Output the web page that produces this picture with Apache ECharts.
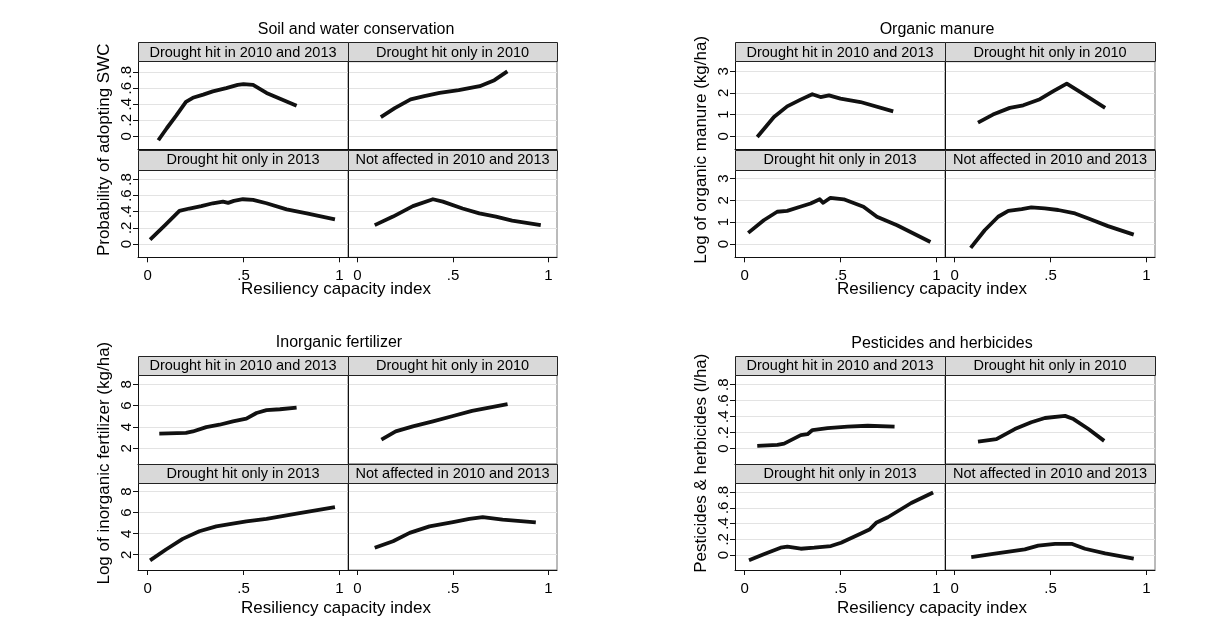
<!DOCTYPE html>
<html>
<head>
<meta charset="utf-8">
<script src="https://cdn.jsdelivr.net/npm/echarts@6/dist/echarts.min.js"></script>
<style>
html,body{margin:0;padding:0;background:#fff;}
#chart{width:1222px;height:637px;}
</style>
</head>
<body>
<div id="chart"></div>
<script>
// ---------- DATA ----------
const panelTitles = ['Soil and water conservation', 'Organic manure', 'Inorganic fertilizer', 'Pesticides and herbicides'];
const yTitles = ['Probability of adopting SWC', 'Log of organic manure (kg/ha)', 'Log of inorganic fertilizer (kg/ha)', 'Pesticides & herbicides (l/ha)'];
const stripLabels = ['Drought hit in 2010 and 2013', 'Drought hit only in 2010', 'Drought hit only in 2013', 'Not affected in 2010 and 2013'];
const xTitle = 'Resiliency capacity index';

const xTickValues = [0, 0.5, 1];
const xTickLabels = ['0', '.5', '1'];
const swcTickValues = [0, 0.2, 0.4, 0.6, 0.8];
const swcTickLabels = ['0', '.2', '.4', '.6', '.8'];
const omTickValues = [0, 1, 2, 3];
const omTickLabels = ['0', '1', '2', '3'];
const ifTickValues = [2, 4, 6, 8];
const ifTickLabels = ['2', '4', '6', '8'];
const phTickValues = [0, 0.2, 0.4, 0.6, 0.8];
const phTickLabels = ['0', '.2', '.4', '.6', '.8'];

// Soil and water conservation
const swcBoth = [[0.056,-0.05],[0.10,0.10],[0.15,0.26],[0.20,0.43],[0.236,0.48],[0.29,0.52],[0.34,0.56],[0.41,0.60],[0.47,0.64],[0.50,0.65],[0.55,0.64],[0.62,0.54],[0.70,0.46],[0.777,0.38]];
const swc2010 = [[0.122,0.24],[0.195,0.35],[0.278,0.46],[0.35,0.50],[0.43,0.54],[0.53,0.575],[0.64,0.625],[0.717,0.70],[0.785,0.81]];
const swc2013 = [[0.013,0.055],[0.09,0.23],[0.166,0.41],[0.218,0.44],[0.28,0.47],[0.34,0.505],[0.393,0.525],[0.42,0.51],[0.45,0.535],[0.497,0.555],[0.55,0.546],[0.62,0.505],[0.725,0.43],[0.83,0.38],[0.977,0.305]];
const swcNone = [[0.09,0.234],[0.186,0.34],[0.29,0.47],[0.395,0.555],[0.447,0.525],[0.55,0.44],[0.638,0.38],[0.725,0.34],[0.81,0.29],[0.96,0.234]];

// Organic manure
const omBoth = [[0.066,-0.03],[0.153,0.89],[0.222,1.38],[0.292,1.69],[0.353,1.94],[0.396,1.81],[0.44,1.89],[0.50,1.74],[0.604,1.58],[0.775,1.15]];
const om2010 = [[0.122,0.63],[0.20,1.0],[0.288,1.31],[0.358,1.43],[0.445,1.71],[0.515,2.08],[0.585,2.43],[0.654,2.05],[0.785,1.31]];
const om2013 = [[0.019,0.51],[0.10,1.09],[0.17,1.48],[0.222,1.52],[0.29,1.71],[0.344,1.86],[0.392,2.05],[0.41,1.89],[0.448,2.12],[0.517,2.05],[0.62,1.71],[0.69,1.25],[0.795,0.86],[0.969,0.09]];
const omNone = [[0.084,-0.18],[0.157,0.63],[0.227,1.25],[0.28,1.52],[0.35,1.60],[0.40,1.68],[0.47,1.63],[0.54,1.56],[0.628,1.40],[0.698,1.17],[0.80,0.82],[0.934,0.43]];

// Inorganic fertilizer
const ifBoth = [[0.061,3.38],[0.20,3.45],[0.236,3.58],[0.306,3.99],[0.375,4.21],[0.445,4.52],[0.515,4.78],[0.568,5.31],[0.62,5.57],[0.69,5.66],[0.777,5.82]];
const if2010 = [[0.125,2.82],[0.20,3.58],[0.29,4.05],[0.395,4.52],[0.50,5.03],[0.60,5.5],[0.786,6.13]];
const if2013 = [[0.013,1.46],[0.096,2.5],[0.183,3.51],[0.27,4.23],[0.358,4.70],[0.428,4.92],[0.515,5.17],[0.62,5.40],[0.777,5.9],[0.977,6.53]];
const ifNone = [[0.09,2.66],[0.186,3.28],[0.273,4.08],[0.377,4.70],[0.50,5.11],[0.586,5.40],[0.656,5.58],[0.76,5.33],[0.934,5.08]];

// Pesticides and herbicides
const phBoth = [[0.066,0.034],[0.171,0.047],[0.206,0.063],[0.293,0.169],[0.328,0.18],[0.354,0.232],[0.433,0.257],[0.537,0.274],[0.642,0.286],[0.782,0.274]];
const ph2010 = [[0.122,0.088],[0.218,0.118],[0.314,0.245],[0.40,0.33],[0.471,0.383],[0.576,0.41],[0.62,0.37],[0.698,0.245],[0.78,0.097]];
const ph2013 = [[0.023,-0.067],[0.10,0.009],[0.188,0.093],[0.223,0.106],[0.293,0.08],[0.363,0.093],[0.45,0.114],[0.503,0.156],[0.607,0.274],[0.651,0.324],[0.686,0.409],[0.747,0.48],[0.869,0.661],[0.983,0.795]];
const phNone = [[0.087,-0.025],[0.21,0.018],[0.366,0.072],[0.436,0.12],[0.524,0.143],[0.61,0.143],[0.68,0.08],[0.785,0.02],[0.934,-0.045]];

// ---------- LAYOUT ----------
const FONT = '"Liberation Sans", Arial, "DejaVu Sans", sans-serif';
const panels = [
  {series:[swcBoth,swc2010,swc2013,swcNone], ticks:swcTickValues, labels:swcTickLabels, yMin:-0.165, yMax:0.93,
   L:138, M:348, R:557, sTop:42.3, r1Top:61.7, r1Bot:149.5, r2Top:169, r2Bot:257.3, titleX:356, titleY:30, yTitleX:104, xTitleX:336, xTitleY:289},
  {series:[omBoth,om2010,om2013,omNone], ticks:omTickValues, labels:omTickLabels, yMin:-0.61, yMax:3.44,
   L:735, M:945, R:1155, sTop:42.3, r1Top:61.7, r1Bot:149.5, r2Top:169, r2Bot:257.3, titleX:937, titleY:30, yTitleX:701, xTitleX:932, xTitleY:289},
  {series:[ifBoth,if2010,if2013,ifNone], ticks:ifTickValues, labels:ifTickLabels, yMin:0.55, yMax:8.82,
   L:138, M:348, R:557, sTop:356.3, r1Top:375.5, r1Bot:463.8, r2Top:483, r2Bot:570, titleX:339, titleY:343, yTitleX:104, xTitleX:336, xTitleY:608},
  {series:[phBoth,ph2010,ph2013,phNone], ticks:phTickValues, labels:phTickLabels, yMin:-0.19, yMax:0.915,
   L:735, M:945, R:1155, sTop:356.3, r1Top:375.5, r1Bot:463.8, r2Top:483, r2Bot:570, titleX:942, titleY:344, yTitleX:701, xTitleX:932, xTitleY:608}
];

function labelFmt(vals, labels) {
  return function (v) {
    const i = vals.findIndex(t => Math.abs(t - v) < 1e-9);
    return i >= 0 ? labels[i] : '';
  };
}

const grids = [], xAxes = [], yAxes = [], series = [], graphics = [];
panels.forEach((p, pi) => {
  graphics.push({type:'text', x:p.titleX, y:p.titleY, style:{text:panelTitles[pi], font:'16px ' + FONT, fill:'#000', align:'center', verticalAlign:'middle'}});
  graphics.push({type:'text', x:p.yTitleX, y:(p.sTop + p.r2Bot) / 2, rotation:Math.PI / 2,
    style:{text:yTitles[pi], font:'17px ' + FONT, fill:'#000', align:'center', verticalAlign:'middle'}});
  graphics.push({type:'text', x:p.xTitleX, y:p.xTitleY, style:{text:xTitle, font:'17px ' + FONT, fill:'#000', align:'center', verticalAlign:'middle'}});

  for (let i = 0; i < 4; i++) {
    const col = i % 2, row = Math.floor(i / 2);
    const left = col ? p.M : p.L;
    const width = col ? p.R - p.M : p.M - p.L;
    const top = row ? p.r2Top : p.r1Top;
    const bot = row ? p.r2Bot : p.r1Bot;
    const stripTop = row ? p.r1Bot : p.sTop;
    const gi = grids.length;
    grids.push({left:left, top:top, width:width, height:bot - top, containLabel:false,
      show:col === 1, borderColor:'#777', borderWidth:1, backgroundColor:'transparent'});
    graphics.push({type:'rect', z:10,
      shape:{x:Math.round(left) + 0.5, y:Math.round(stripTop) + 0.5, width:Math.round(width), height:Math.round(top - stripTop)},
      style:{fill:'#d9d9d9', stroke:'#222', lineWidth:1}});
    graphics.push({type:'text', z:11, x:left + width / 2, y:(stripTop + top) / 2 + 0.5,
      style:{text:stripLabels[i], font:'14.5px ' + FONT, fill:'#000', align:'center', verticalAlign:'middle'}});

    xAxes.push({type:'value', gridIndex:gi, min:-0.05, max:1.045, position:'bottom',
      axisLine:{show:true, onZero:false, lineStyle:{color:'#111', width:1}},
      axisTick:{show:row === 1, customValues:xTickValues, length:5, lineStyle:{color:'#111', width:1}},
      axisLabel:{show:row === 1, customValues:xTickValues, formatter:labelFmt(xTickValues, xTickLabels),
        fontSize:15, fontFamily:FONT, color:'#000', margin:11, showMinLabel:true, showMaxLabel:true},
      splitLine:{show:false}});
    yAxes.push({type:'value', gridIndex:gi, min:p.yMin, max:p.yMax, position:'left',
      axisLine:{show:true, onZero:false, lineStyle:{color:'#111', width:1}},
      axisTick:{show:col === 0, customValues:p.ticks, length:5, lineStyle:{color:'#111', width:1}},
      axisLabel:{show:col === 0, customValues:p.ticks, rotate:90, formatter:labelFmt(p.ticks, p.labels),
        fontSize:15, fontFamily:FONT, color:'#000', margin:4},
      splitLine:{show:true, lineStyle:{color:'#e3e3e3', width:1.2}}});
    series.push({type:'line', xAxisIndex:gi, yAxisIndex:gi, data:p.series[i], showSymbol:false, symbol:'none',
      lineStyle:{color:'#111', width:3.8, cap:'butt', join:'round'}, animation:false, silent:true});
  }
});

const chart = echarts.init(document.getElementById('chart'), null, {renderer:'canvas'});
chart.setOption({
  backgroundColor:'#fff',
  animation:false,
  grid:grids, xAxis:xAxes, yAxis:yAxes, series:series, graphic:graphics
});
</script>
</body>
</html>
